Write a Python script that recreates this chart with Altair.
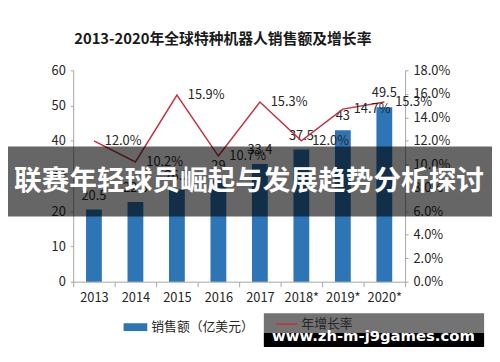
import altair as alt
import pandas as pd

title_text = "2013-2020年全球特种机器人销售额及增长率"
years = ["2013", "2014", "2015", "2016", "2017", "2018*", "2019*", "2020*"]
sales = [20.5, 22.6, 26.2, 29, 33.4, 37.5, 43, 49.5]
growth_pct = [12.0, 10.2, 15.9, 10.7, 15.3, 12.0, 14.7, 15.3]
left_ticks = [0, 10, 20, 30, 40, 50, 60]
right_ticks = [0, 0.02, 0.04, 0.06, 0.08, 0.10, 0.12, 0.14, 0.16, 0.18]
bar_legend = "销售额（亿美元）"
line_legend = "年增长率"
banner_text = "联赛年轻球员崛起与发展趋势分析探讨"
watermark_text = "www.zh-m-j9games.com"

FONT = "Noto Sans CJK SC"
BAR_COLOR = "#2e75b6"
LINE_COLOR = "#c3303e"
TEXT_COLOR = "#262626"
AXIS_COLOR = "#a6a6a6"

df = pd.DataFrame({
    "year": years,
    "sales": sales,
    "growth": [g / 100 for g in growth_pct],
})
df["sales_label"] = [f"{v:g}" for v in sales]
df["series_bar"] = bar_legend
df["series_line"] = line_legend

x_axis = alt.Axis(labelAngle=0, tickBand="extent", tickSize=5, labelPadding=5,
                  domainColor=AXIS_COLOR, tickColor=AXIS_COLOR, labelColor=TEXT_COLOR,
                  labelFont=FONT, labelFontSize=13, labelOverlap=False, zindex=0)
x_scale = alt.Scale(paddingInner=0, paddingOuter=0)
x_enc = alt.X("year:N", sort=years, title=None, scale=x_scale, axis=x_axis)

left_axis = alt.Axis(orient="left", values=left_ticks, tickCount=7, grid=False, tickSize=3,
                     labelPadding=5, domainColor=AXIS_COLOR, tickColor=AXIS_COLOR,
                     labelColor=TEXT_COLOR, labelFont=FONT, labelFontSize=13,
                     labelOverlap=False, zindex=0)
left_scale = alt.Scale(domain=[0, 60], nice=False)
y_left = alt.Y("sales:Q", title=None, scale=left_scale, axis=left_axis)

right_axis = alt.Axis(orient="right", values=right_ticks, tickCount=10, format=".1%",
                      grid=False, tickSize=3, labelPadding=5, domainColor=AXIS_COLOR,
                      tickColor=AXIS_COLOR, labelColor=TEXT_COLOR, labelFont=FONT,
                      labelFontSize=13, labelOverlap=False, zindex=0)
right_scale = alt.Scale(domain=[0, 0.18], nice=False)
y_right = alt.Y("growth:Q", title=None, scale=right_scale, axis=right_axis)

base = alt.Chart(df)

bars = base.mark_bar(size=16).encode(
    x=x_enc,
    y=y_left,
    fill=alt.Fill("series_bar:N", scale=alt.Scale(range=[BAR_COLOR]),
                  legend=alt.Legend(orient="none", legendX=50, legendY=247, title=None,
                                    padding=0, symbolType="M-1,-0.33H1V0.33H-1Z",
                                    symbolSize=576, symbolOpacity=1, labelOffset=3,
                                    labelFont=FONT, labelFontSize=13, labelColor=TEXT_COLOR)),
)

bar_text = base.mark_text(baseline="bottom", dy=-7, font=FONT, fontSize=13,
                          color=TEXT_COLOR).encode(
    x=x_enc,
    y=y_left,
    text="sales_label:N",
)

line = base.mark_line(strokeWidth=1.5).encode(
    x=x_enc,
    y=y_right,
    stroke=alt.Stroke("series_line:N", scale=alt.Scale(range=[LINE_COLOR]),
                      legend=alt.Legend(orient="none", legendX=204, legendY=245, title=None,
                                        padding=0, symbolType="stroke", symbolSize=484,
                                        symbolStrokeWidth=1.5, labelOffset=3,
                                        labelFont=FONT, labelFontSize=13,
                                        labelColor=TEXT_COLOR)),
)

line_text = base.mark_text(align="left", baseline="middle", dx=11, font=FONT,
                           fontSize=13, color=TEXT_COLOR).encode(
    x=x_enc,
    y=y_right,
    text=alt.Text("growth:Q", format=".1%"),
)

one = pd.DataFrame({"t": [0]})

title = alt.Chart(pd.DataFrame({"t": [title_text]})).mark_text(
    align="left", baseline="middle", font=FONT, fontSize=15, fontWeight="bold",
    color="#1a1a1a").encode(x=alt.value(1), y=alt.value(-32), text="t:N")

banner = alt.Chart(one).mark_rect(color="black", opacity=0.6).encode(
    x=alt.value(-74), x2=alt.value(426), y=alt.value(77), y2=alt.value(148))

banner_label = alt.Chart(pd.DataFrame({"t": [banner_text]})).mark_text(
    align="center", baseline="middle", font=FONT, fontSize=28, fontWeight="bold",
    color="white").encode(x=alt.value(178), y=alt.value(113), text="t:N")

wm_gray = alt.Chart(one).mark_rect(color="black", opacity=0.55).encode(
    x=alt.value(193), x2=alt.value(416), y=alt.value(246), y2=alt.value(266))

wm_black = alt.Chart(one).mark_rect(color="black", opacity=1).encode(
    x=alt.value(193), x2=alt.value(416), y=alt.value(266), y2=alt.value(300))

wm_label = alt.Chart(pd.DataFrame({"t": [watermark_text]})).mark_text(
    align="center", baseline="alphabetic", font="DejaVu Sans", fontSize=15,
    fontWeight="bold", color="white").encode(x=alt.value(304), y=alt.value(274), text="t:N")

left = alt.layer(bars, bar_text)
right = alt.layer(line, line_text)

chart = alt.layer(
    left, right, title, banner, banner_label, wm_gray, wm_black, wm_label
).resolve_scale(y="independent").properties(
    width=336, height=214,
    autosize=alt.AutoSizeParams(type="none"),
    padding={"left": 66, "top": 61, "right": 88, "bottom": 64},
    background="white",
).configure_view(stroke=None)

chart.save("out.html", embed_options={"renderer": "svg", "actions": False})
